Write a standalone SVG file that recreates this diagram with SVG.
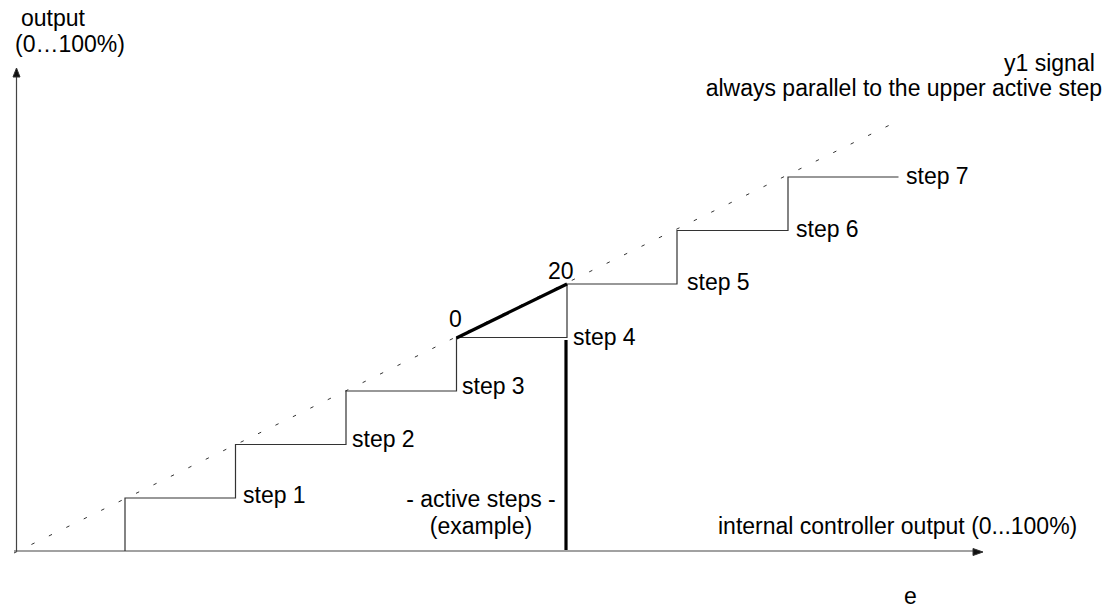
<svg xmlns="http://www.w3.org/2000/svg" width="1108" height="607" viewBox="0 0 1108 607">
<defs>
<style>
text{font-family:"Liberation Sans",Arial,sans-serif;font-size:23px;fill:#000}
.ax{stroke:#444;stroke-width:1.2;fill:none}
.st{stroke:#333;stroke-width:1.2;fill:none}
.dash{stroke:#333;stroke-width:1;fill:none;stroke-dasharray:3.5 15.9}
.thick{stroke:#000;stroke-width:3.2;fill:none}
.ah{fill:#111;stroke:#333;stroke-width:1}
</style>
</defs>
<rect width="1108" height="607" fill="#fff"/>
<g id="axes">
<line class="ax" x1="16.5" y1="551" x2="16.5" y2="76"/>
<polygon class="ah" points="16.5,68 13,77 20,77"/>
<line class="ax" x1="14" y1="551" x2="974" y2="551"/>
<polygon class="ah" points="983,552 973,548.5 973,555.5"/>
</g>
<g id="connectors">
<line class="dash" x1="14" y1="553" x2="900" y2="120"/>
<polyline class="st" points="125,551 125,498 235.5,498 235.5,444.5 346,444.5 346,391 456.5,391 456.5,337.5 567,337.5 567,284 677,284 677,230.5 788,230.5 788,177 898.5,177"/>
<line class="thick" x1="456.5" y1="338" x2="567" y2="284"/>
<line class="thick" x1="566" y1="340" x2="566" y2="550"/>
</g>
<g id="labels">
<text x="21" y="26">output</text>
<text x="15" y="52">(0…100%)</text>
<text x="1004" y="71">y1 signal</text>
<text x="1102" y="96" text-anchor="end">always parallel to the upper active step</text>
<text x="243" y="503">step 1</text>
<text x="352" y="447">step 2</text>
<text x="462" y="394">step 3</text>
<text x="573" y="345">step 4</text>
<text x="687" y="290">step 5</text>
<text x="796" y="237">step 6</text>
<text x="906" y="184">step 7</text>
<text x="449" y="327">0</text>
<text x="548" y="279">20</text>
<text x="481" y="507" text-anchor="middle">- active steps -</text>
<text x="481" y="534" text-anchor="middle">(example)</text>
<text x="718" y="534">internal controller output (0...100%)</text>
<text x="904" y="604">e</text>
</g>
</svg>
